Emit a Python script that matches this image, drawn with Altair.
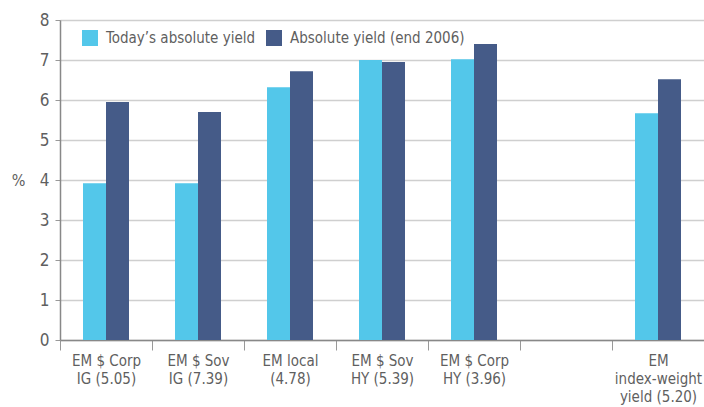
import altair as alt
import pandas as pd

categories = ["EM $ Corp|IG (5.05)", "EM $ Sov|IG (7.39)", "EM local|(4.78)",
              "EM $ Sov|HY (5.39)", "EM $ Corp|HY (3.96)", " ",
              "EM|index-weight|yield (5.20)"]
series = ["Today\u2019s absolute yield", "Absolute yield (end 2006)"]
today = [3.92, 3.92, 6.32, 7.0, 7.02, None, 5.67]
end2006 = [5.95, 5.7, 6.72, 6.95, 7.4, None, 6.52]

rows = []
for c, a, b in zip(categories, today, end2006):
    if a is not None:
        rows.append({"cat": c, "series": series[0], "value": a})
    if b is not None:
        rows.append({"cat": c, "series": series[1], "value": b})
df = pd.DataFrame(rows)

FONT = "Liberation Sans Narrow, DejaVu Sans Condensed, Roboto, sans-serif"
TXT = "#5f5f5f"

chart = alt.Chart(df).mark_bar().encode(
    x=alt.X("cat:N", sort=categories,
            scale=alt.Scale(domain=categories, paddingInner=0, paddingOuter=0),
            axis=alt.Axis(title=None, labelAngle=0, tickBand="extent",
                          labelExpr="split(datum.label, '|')",
                          labelFont=FONT, labelFontSize=15, labelColor=TXT,
                          labelLineHeight=18, labelPadding=3, labelBaseline="top",
                          labelLimit=0,
                          tickSize=10, tickColor="#999", domainColor="#888",
                          domainWidth=1.5, grid=False)),
    xOffset=alt.XOffset("series:N", sort=series,
                        scale=alt.Scale(domain=series, paddingOuter=1, paddingInner=0)),
    y=alt.Y("value:Q", scale=alt.Scale(domain=[0, 8], nice=False),
            axis=alt.Axis(title="%", titleAngle=0, titleX=-42, titleY=160,
                          titleAlign="center", titleBaseline="middle",
                          titleFont=FONT, titleFontSize=16, titleFontWeight="normal",
                          titleColor=TXT, values=list(range(0, 9)),
                          labelFont=FONT, labelFontSize=17, labelColor=TXT,
                          labelPadding=6, tickSize=5, tickColor="#999",
                          domainColor="#888", domainWidth=1.5,
                          grid=True, gridColor="#cfcfcf", gridWidth=1.5)),
    color=alt.Color("series:N", sort=series,
                    scale=alt.Scale(domain=series, range=["#53c7ea", "#455b88"]),
                    legend=alt.Legend(title=None, orient="none", direction="horizontal",
                                      legendX=22, legendY=10, symbolType="square",
                                      symbolSize=256, symbolStrokeWidth=0,
                                      labelFont=FONT, labelFontSize=15, labelColor=TXT,
                                      labelOffset=8, columnPadding=10, labelLimit=0)),
).properties(
    width=644, height=320,
    autosize=alt.AutoSizeParams(type="none"),
    padding={"left": 60, "top": 20, "right": 0, "bottom": 67},
).configure_view(stroke=None).configure(background="white")

chart.save("out.html", embed_options={"renderer": "svg", "actions": False})
